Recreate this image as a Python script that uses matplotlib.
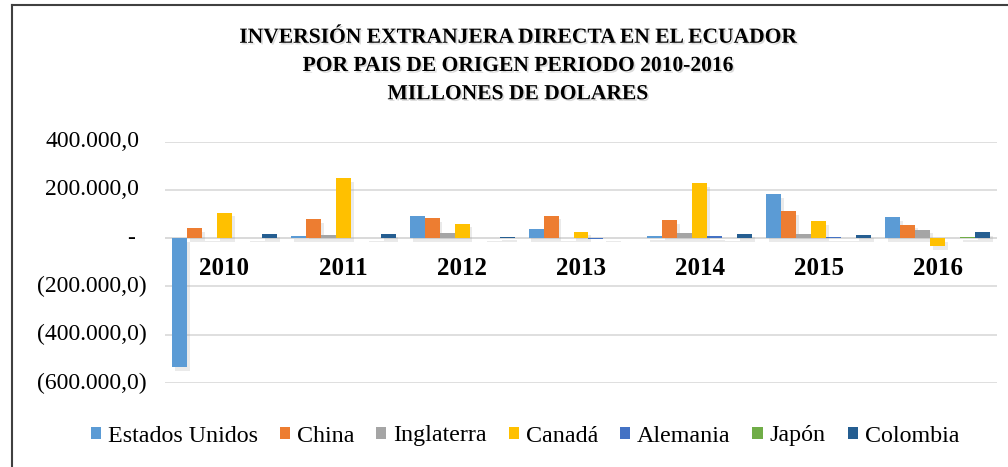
import matplotlib.pyplot as plt
import matplotlib.patheffects as pe
from matplotlib.lines import Line2D
from matplotlib.patches import Patch
import numpy as np

plt.rcParams['font.family'] = ['Liberation Serif', 'DejaVu Serif']

years = ['2010', '2011', '2012', '2013', '2014', '2015', '2016']
countries = ['Estados Unidos', 'China', 'Inglaterra', 'Canadá', 'Alemania', 'Japón', 'Colombia']
colors = ['#5B9BD5', '#ED7D31', '#A5A5A5', '#FFC000', '#4472C4', '#70AD47', '#255E91']

estados_unidos = [-535000, 11000, 92000, 38000, 8000, 183000, 87000]
china = [42000, 79000, 83000, 93000, 75000, 112000, 55000]
inglaterra = [2000, 14000, 21000, 2000, 23000, 19000, 34000]
canada = [105000, 248000, 59000, 26000, 228000, 71000, -33000]
alemania = [-1000, -1000, -1000, -2000, 9000, 3000, -1000]
japon = [1500, 1500, 1500, 1500, 1500, 1500, 6000]
colombia = [19000, 19000, 6000, -800, 19000, 15000, 24000]

series = [estados_unidos, china, inglaterra, canada, alemania, japon, colombia]
yticks = [400000, 200000, 0, -200000, -400000, -600000]

title = ('INVERSIÓN EXTRANJERA DIRECTA EN EL ECUADOR\n'
         'POR PAIS DE ORIGEN PERIODO 2010-2016\n'
         'MILLONES DE DOLARES')


def fmt(v):
    s = f'{abs(v):,.1f}'.replace(',', 'X').replace('.', ',').replace('X', '.')
    if v < 0:
        return f'({s})'
    if v == 0:
        return '-'
    return s


fig = plt.figure(figsize=(10.08, 4.67), dpi=100)
ax = fig.add_axes([165 / 1008, 1 - 383 / 467, 832 / 1008, 241.3 / 467])

x = np.arange(len(years))
w = 0.126
shadow = [pe.withSimplePatchShadow(offset=(2, -2.5), shadow_rgbFace='#999999', alpha=0.2)]
for i, (vals, c) in enumerate(zip(series, colors)):
    bars = ax.bar(x + (i - 3) * w, vals, width=w, color=c, zorder=3)
    for b in bars:
        b.set_path_effects(shadow)

ax.set_ylim(-600000, 400000)
ax.set_xlim(-0.5, len(years) - 0.5)
ax.set_yticks(yticks)
ax.set_yticklabels([])
ax.tick_params(axis='y', length=0)
ax.grid(axis='y', color='#D9D9D9', linewidth=1.2, zorder=0)
ax.axhline(0, color='#D9D9D9', linewidth=1.2, zorder=1)
for s in ['top', 'right', 'left']:
    ax.spines[s].set_visible(False)
ax.spines['bottom'].set_position(('data', 0))
ax.spines['bottom'].set_visible(False)

ax.set_xticks(x)
ax.set_xticklabels(years, fontsize=18, fontweight='bold')
ax.tick_params(axis='x', length=0, pad=13.5)

# y labels, accounting-style alignment
for v in yticks:
    if v < 0:
        off = -18
    elif v == 0:
        off = -30
    else:
        off = -25.7
    ax.annotate(fmt(v), xy=(0, v), xycoords=('axes fraction', 'data'),
                xytext=(off, 0), textcoords='offset pixels',
                ha='right', va='center', fontsize=17)

fig.text(517 / 1008, 1 - 66 / 467, title, ha='center', va='center',
         fontsize=15.5, fontweight='bold', linespacing=1.55,
         path_effects=[pe.withSimplePatchShadow(offset=(1.2, -1.2),
                                                shadow_rgbFace='#999999', alpha=0.35)])

handles = [Patch(facecolor=c, edgecolor='none') for c in colors]
fig.legend(handles, countries, loc='center', bbox_to_anchor=(525 / 1008, 1 - 436 / 467),
           ncol=7, frameon=False, fontsize=17.3, handlelength=0.42, handleheight=0.42,
           handletextpad=0.3, columnspacing=0.9, borderpad=0)

# outer chart frame
fig.add_artist(Line2D([12 / 1008, 12 / 1008], [0, 1 - 5 / 467], color='#404040',
                      linewidth=1.5, transform=fig.transFigure))
fig.add_artist(Line2D([12 / 1008, 1], [1 - 5 / 467, 1 - 5 / 467], color='#404040',
                      linewidth=1.5, transform=fig.transFigure))

fig.savefig('out.png', dpi=100)
